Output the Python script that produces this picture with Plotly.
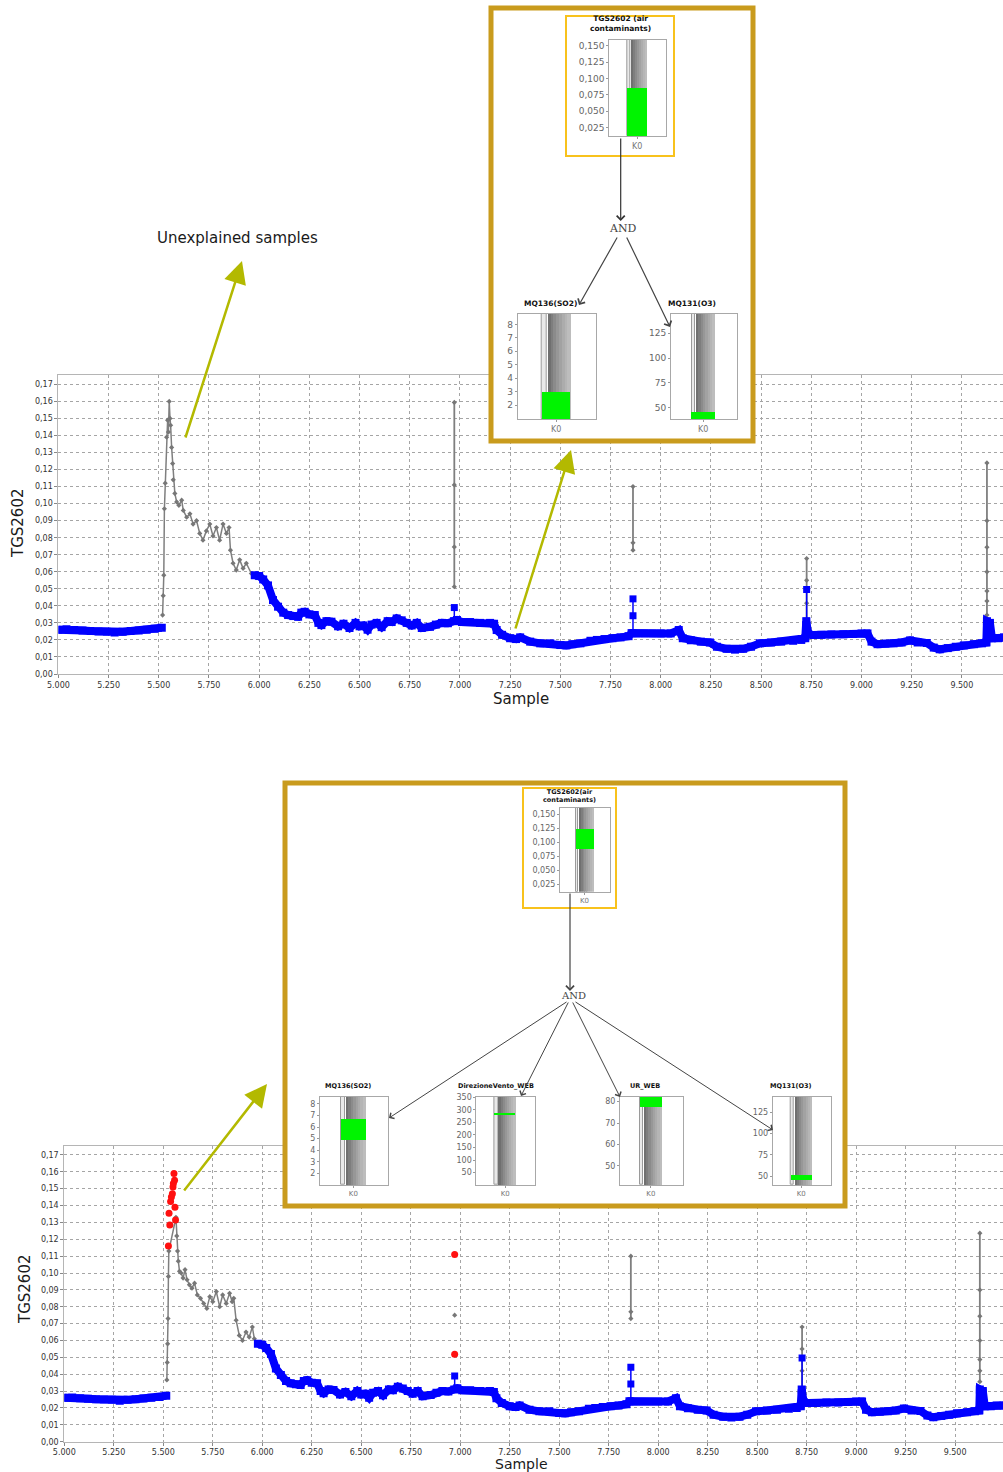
import plotly.graph_objects as go

W, H = 1003, 1472

# ---------------- data: main time series (TGS2602 vs Sample) ----------------
blue_x = [5000, 5040, 5080, 5120, 5160, 5200, 5240, 5280, 5320, 5360,
          5400, 5440, 5480, 5515, None, 5978, 6000, 6020, 6044, 6069,
          6094, 6120, 6144, 6170, 6194, 6210, 6227, 6250, 6277, 6295,
          6310, 6335, 6360, 6393, 6420, 6450, 6480, 6500, 6519, 6540,
          6560, 6585, 6610, 6640, 6660, 6685, 6710, 6735, 6760, 6785,
          6810, 6851, 6880, 6910, 6940, 6970, 6985, 7010, 7050, 7100,
          7150, 7170, 7183, 7210, 7250, 7280, 7300, 7350, 7400, 7450,
          7500, 7530, 7560, 7600, 7650, 7682, 7720, 7760, 7800, 7840,
          7855, 7880, 7920, 7960, 8000, 8050, 8090, 8110, 8150, 8200,
          8245, 8280, 8328, 8370, 8411, 8450, 8494, 8550, 8600, 8660,
          8700, 8720, 8725, 8735, 8760, 8800, 8850, 8910, 8960, 9000,
          9030, 9050, 9080, 9120, 9160, 9200, 9242, 9280, 9325, 9360,
          9390, 9430, 9470, 9510, 9560, 9600, 9622, 9625, 9640, 9650,
          9680, 9710, 9745]
blue_y = [0.0260, 0.0262, 0.0258, 0.0255, 0.0252, 0.0250, 0.0248, 0.0243, 0.0248, 0.0252,
          0.0256, 0.0260, 0.0265, 0.0272, None, 0.0580, 0.0575, 0.0555, 0.0520, 0.0434,
          0.0395, 0.0360, 0.0346, 0.0340, 0.0336, 0.0360, 0.0365, 0.0350, 0.0346, 0.0300,
          0.0287, 0.0310, 0.0307, 0.0280, 0.0295, 0.0270, 0.0300, 0.0280, 0.0285, 0.0260,
          0.0290, 0.0300, 0.0275, 0.0310, 0.0305, 0.0326, 0.0315, 0.0300, 0.0285, 0.0300,
          0.0270, 0.0277, 0.0290, 0.0300, 0.0298, 0.0310, 0.0317, 0.0305, 0.0305, 0.0300,
          0.0300, 0.0295, 0.0258, 0.0230, 0.0210, 0.0205, 0.0215, 0.0190, 0.0180, 0.0180,
          0.0170, 0.0168, 0.0175, 0.0180, 0.0195, 0.0200, 0.0205, 0.0210, 0.0215, 0.0222,
          0.0240, 0.0238, 0.0238, 0.0238, 0.0238, 0.0238, 0.0258, 0.0210, 0.0198, 0.0190,
          0.0185, 0.0160, 0.0148, 0.0143, 0.0148, 0.0160, 0.0180, 0.0185, 0.0190, 0.0195,
          0.0200, 0.0210, 0.0310, 0.0235, 0.0229, 0.0230, 0.0232, 0.0233, 0.0235, 0.0238,
          0.0238, 0.0190, 0.0175, 0.0178, 0.0180, 0.0185, 0.0197, 0.0185, 0.0182, 0.0155,
          0.0145, 0.0152, 0.0160, 0.0168, 0.0175, 0.0180, 0.0185, 0.0310, 0.0300, 0.0210,
          0.0210, 0.0215, 0.0215]

blue_spike_x = [6972, 6972, None, 7862, 7862, 7862, None, 8727, 8727]
blue_spike_y = [0.031, 0.039, None, 0.024, 0.0342, 0.0441, None, 0.031, 0.0496]

# top chart: unexplained samples (grey)
top_grey_x = [5519, 5522, 5525, 5528, 5532, 5539, 5544, 5548, 5552, 5556,
              5559, 5564, 5569, 5572, 5580, 5589, 5600, 5614, 5622, 5639,
              5655, 5671, 5688, 5704, 5720, 5737, 5754, 5770, 5787, 5803,
              5820, 5837, 5850, 5857, 5870, 5886, 5903, 5920, 5936, 5961, 5986]
top_grey_y = [0.0346, 0.046, 0.058, 0.097, 0.112, 0.139, 0.149, 0.142, 0.160, 0.150,
              0.146, 0.133, 0.1235, 0.114, 0.106, 0.101, 0.099, 0.102, 0.096, 0.092,
              0.094, 0.088, 0.090, 0.0825, 0.0785, 0.084, 0.088, 0.081, 0.086, 0.0785,
              0.088, 0.0825, 0.086, 0.0727, 0.065, 0.061, 0.067, 0.062, 0.065, 0.059, 0.057]
top_vert_x = [6972, 6972, 6972, 6972, None, 7862, 7862, 7862, None,
              8727, 8727, 8727, 8727, None, 9625, 9625, 9625, 9625, 9625, 9625, 9625]
top_vert_y = [0.0512, 0.0746, 0.111, 0.1594, None, 0.0727, 0.077, 0.110, None,
              0.0316, 0.0416, 0.055, 0.0678, None, 0.0346, 0.0428, 0.0487, 0.060, 0.0744, 0.090, 0.1239]

# bottom chart: unexplained (grey) and newly flagged (red)
bot_grey_x = [5518, 5520, 5522, 5524, 5526, 5528,
              5564, 5568, 5572, 5576, 5582, 5590, 5600, 5610, 5620, 5632,
              5645, 5658, 5672, 5688, 5704, 5720, 5735, 5750, 5768, 5785,
              5800, 5818, 5835, 5848, 5856, 5868, 5884, 5900, 5918, 5934,
              5950, 5960, 5972]
bot_grey_y = [0.0366, 0.047, 0.058, 0.073, 0.098, 0.113,
              0.133, 0.122, 0.113, 0.107, 0.101, 0.100, 0.097, 0.102, 0.096, 0.093,
              0.091, 0.094, 0.087, 0.085, 0.082, 0.079, 0.086, 0.083, 0.089, 0.080,
              0.087, 0.082, 0.088, 0.083, 0.085, 0.072, 0.063, 0.060, 0.065, 0.062,
              0.068, 0.061, 0.058]
bot_vert_x = [7862, 7862, 7862, None, 8727, 8727, 8727, 8727, None,
              9625, 9625, 9625, 9625, 9625, 9625, 9625]
bot_vert_y = [0.073, 0.077, 0.110, None, 0.031, 0.042, 0.055, 0.068, None,
              0.0356, 0.042, 0.0487, 0.060, 0.0744, 0.090, 0.1236]
bot_pts_x = [6972, 6972]
bot_pts_y = [0.159, 0.075]
red_x = [5526, 5529, 5533, 5537, 5541, 5546, 5549, 5551, 5554, 5557, 5559, 5562, 6972, 6972]
red_y = [0.116, 0.1355, 0.1285, 0.1424, 0.145, 0.147, 0.151, 0.153, 0.159, 0.155, 0.139, 0.1315, 0.111, 0.0518]

x_ticks = [5000, 5250, 5500, 5750, 6000, 6250, 6500, 6750, 7000, 7250, 7500, 7750, 8000, 8250, 8500, 8750, 9000, 9250, 9500]
y_ticks = [0.00, 0.01, 0.02, 0.03, 0.04, 0.05, 0.06, 0.07, 0.08, 0.09, 0.10, 0.11, 0.12, 0.13, 0.14, 0.15, 0.16, 0.17]

# ---------------- data: rule diagrams (mini bar charts) ----------------
top_node_names = ["TGS2602 (air<br>contaminants)", "MQ136(SO2)", "MQ131(O3)"]
top_axis_lo = [0.0123, 0.96, 38.6]
top_axis_hi = [0.1587, 8.77, 144.5]
top_green_lo = [0.0123, 0.96, 38.6]
top_green_hi = [0.085, 2.95, 46.0]
top_node_ticks = [[0.025, 0.05, 0.075, 0.1, 0.125, 0.15], [2, 3, 4, 5, 6, 7, 8], [50, 75, 100, 125]]

bot_node_names = ["TGS2602(air<br>contaminants)", "MQ136(SO2)", "DirezioneVento_WEB", "UR_WEB", "MQ131(O3)"]
bot_axis_lo = [0.0118, 0.99, 1, 41.1, 39.4]
bot_axis_hi = [0.1613, 8.63, 352, 82.3, 143.4]
bot_green_lo = [0.088, 4.88, 282, 77.7, 45.9]
bot_green_hi = [0.123, 6.76, 290, 82.3, 52.0]
bot_node_ticks = [[0.025, 0.05, 0.075, 0.1, 0.125, 0.15], [2, 3, 4, 5, 6, 7, 8],
                  [50, 100, 150, 200, 250, 300, 350], [50, 60, 70, 80], [50, 75, 100, 125]]
node_category = ["K0"]

# ---------------- styles / layout geometry (pixels) ----------------
BLUE = "#0000ff"
GREY = "#7f7f7f"
RED = "#ff1010"
GREEN = "#00f400"
GOLD = "#c99b1d"
YELLOW = "#f8c21c"
OLIVE = "#b3b900"
FONT = "DejaVu Sans"

top_mini_px = [(609.3, 40, 666, 136), (517.7, 314, 596, 419), (671, 314, 736.7, 419)]
top_title_px = [(620, 23), (550, 303), (692, 303)]
bot_mini_px = [(560, 808, 610, 891.7), (320, 1096.7, 388, 1185), (476.4, 1096.7, 535.3, 1185),
               (620, 1096.7, 683, 1185), (772.7, 1096.7, 831, 1185)]
bot_title_px = [(569, 796), (348, 1086), (496, 1086), (645, 1086), (791, 1086)]
grad_colors = ["#707070", "#7e7e7e", "#8b8b8b", "#979797", "#a2a2a2", "#acacac", "#b5b5b5", "#bdbdbd"]


def dom_x(a, b):
    return [max(0.0, a / W), min(1.0, b / W)]


def dom_y(t, b):
    return [max(0.0, 1 - b / H), min(1.0, 1 - t / H)]


fig = go.Figure()


# ---- main charts ----
def add_main(xa, ya, grey_x, grey_y, vert_x, vert_y):
    fig.add_trace(go.Scatter(x=grey_x, y=grey_y, mode="lines+markers", xaxis=xa, yaxis=ya,
                             line=dict(color=GREY, width=1.5),
                             marker=dict(symbol="diamond", size=4, color="#777777"), hoverinfo="skip"))
    fig.add_trace(go.Scatter(x=vert_x, y=vert_y, mode="lines+markers", xaxis=xa, yaxis=ya,
                             line=dict(color=GREY, width=1.8),
                             marker=dict(symbol="diamond", size=4, color="#777777"), hoverinfo="skip"))
    fig.add_trace(go.Scatter(x=blue_x, y=blue_y, mode="lines+markers", xaxis=xa, yaxis=ya,
                             line=dict(color=BLUE, width=8),
                             marker=dict(symbol="square", size=8, color=BLUE), hoverinfo="skip"))
    fig.add_trace(go.Scatter(x=blue_spike_x, y=blue_spike_y, mode="lines+markers", xaxis=xa, yaxis=ya,
                             line=dict(color=BLUE, width=1.5),
                             marker=dict(symbol="square", size=7, color=BLUE), hoverinfo="skip"))


add_main("x", "y", top_grey_x, top_grey_y, top_vert_x, top_vert_y)
add_main("x2", "y2", bot_grey_x, bot_grey_y, bot_vert_x, bot_vert_y)
fig.add_trace(go.Scatter(x=bot_pts_x, y=bot_pts_y, mode="markers", xaxis="x2", yaxis="y2",
                         marker=dict(symbol="diamond", size=4, color="#777777"), hoverinfo="skip"))
fig.add_trace(go.Scatter(x=red_x, y=red_y, mode="markers", xaxis="x2", yaxis="y2",
                         marker=dict(symbol="circle", size=7, color=RED), hoverinfo="skip"))

main_x_common = dict(tickvals=x_ticks, tickformat=",d", ticks="outside", ticklen=3, tickcolor="#888",
                     tickfont=dict(family=FONT, size=8, color="#333"), showgrid=True, gridcolor="#a5a5a5",
                     griddash="dot", gridwidth=1, zeroline=False, showline=True, mirror=True,
                     linecolor="#b5b5b5", fixedrange=True)
main_y_common = dict(tickvals=y_ticks, tickformat=".2f", ticks="outside", ticklen=3, tickcolor="#888",
                     tickfont=dict(family=FONT, size=8, color="#333"), showgrid=True, gridcolor="#a5a5a5",
                     griddash="dot", gridwidth=1, zeroline=False, showline=True, mirror=True,
                     linecolor="#b5b5b5", fixedrange=True)

layout = dict(
    width=W, height=H, margin=dict(l=0, r=0, t=0, b=0, autoexpand=False),
    paper_bgcolor="white", plot_bgcolor="rgba(0,0,0,0)",
    separators=",.", showlegend=False, barmode="overlay", bargap=0,
    font=dict(family=FONT),
    xaxis=dict(domain=dom_x(58.4, W), range=[5000, 9705], anchor="y", **main_x_common),
    yaxis=dict(domain=dom_y(375, 674), range=[0, 0.1755], anchor="x", **main_y_common),
    xaxis2=dict(domain=dom_x(64.3, W), range=[5000, 9742], anchor="y2", **main_x_common),
    yaxis2=dict(domain=dom_y(1146, 1441.7), range=[0, 0.1753], anchor="x2", **main_y_common),
    # full-page pixel overlay used for inset backgrounds and decorations
    xaxis3=dict(domain=[0, 1], range=[0, W], anchor="y3", visible=False, fixedrange=True),
    yaxis3=dict(domain=[0, 1], range=[H, 0], anchor="x3", visible=False, fixedrange=True),
)

# white backgrounds for the two inset panels (drawn on the overlay subplot, above the main charts)
fig.add_trace(go.Scatter(x=[491, 753, 753, 491, 491, None, 285, 845, 845, 285, 285],
                         y=[8, 8, 441, 441, 8, None, 783, 783, 1206, 1206, 783],
                         mode="lines", fill="toself", fillcolor="white", line=dict(width=0, color="white"),
                         xaxis="x3", yaxis="y3", hoverinfo="skip"))

# ---- mini bar charts ----
annotations = []
shapes = []


def add_mini(k, box, lo, hi, glo, ghi, ticks, title, title_pos, tick_size, title_size, fmt):
    xa, ya = "x%d" % k, "y%d" % k
    n = len(grad_colors)
    g0, g1 = 0.385, 0.67
    gw = (g1 - g0) / n
    centers = [g0 + gw * (i + 0.5) for i in range(n)]
    fig.add_trace(go.Bar(x=[0.34], y=[hi - lo], base=[lo], width=[0.055], xaxis=xa, yaxis=ya,
                         marker=dict(color="#e9e9e9", line=dict(color="#9a9a9a", width=1)), hoverinfo="skip"))
    fig.add_trace(go.Bar(x=centers, y=[hi - lo] * n, base=[lo] * n, width=[gw * 1.25] * n, xaxis=xa, yaxis=ya,
                         marker=dict(color=grad_colors, line=dict(width=0)), hoverinfo="skip"))
    fig.add_trace(go.Bar(x=[0.49], y=[ghi - glo], base=[glo], width=[0.36], xaxis=xa, yaxis=ya,
                         marker=dict(color=GREEN, line=dict(width=0)), hoverinfo="skip"))
    x0, y0, x1, y1 = box
    layout["xaxis%d" % k] = dict(domain=dom_x(x0, x1), range=[0, 1], anchor=ya, tickvals=[0.49],
                                 ticktext=node_category, ticks="outside", ticklen=2, tickcolor="#999",
                                 tickfont=dict(family=FONT, size=tick_size - 1, color="#777"),
                                 showgrid=False, zeroline=False, showline=True, mirror=True,
                                 linecolor="#a8a8a8", fixedrange=True)
    layout["yaxis%d" % k] = dict(domain=dom_y(y0, y1), range=[lo, hi], anchor=xa, tickvals=ticks,
                                 tickformat=fmt, ticks="outside", ticklen=2, tickcolor="#999",
                                 tickfont=dict(family=FONT, size=tick_size, color="#666"),
                                 showgrid=False, zeroline=False, showline=True, mirror=True,
                                 linecolor="#a8a8a8", fixedrange=True)
    annotations.append(dict(x=title_pos[0], y=title_pos[1], xref="x3", yref="y3", showarrow=False,
                            text="<b>%s</b>" % title, font=dict(family=FONT, size=title_size, color="#111"),
                            xanchor="center", yanchor="middle"))


for i in range(3):
    add_mini(4 + i, top_mini_px[i], top_axis_lo[i], top_axis_hi[i], top_green_lo[i], top_green_hi[i],
             top_node_ticks[i], top_node_names[i], top_title_px[i], 9, 7.5, ".3f" if i == 0 else "d")
for i in range(5):
    add_mini(7 + i, bot_mini_px[i], bot_axis_lo[i], bot_axis_hi[i], bot_green_lo[i], bot_green_hi[i],
             bot_node_ticks[i], bot_node_names[i], bot_title_px[i], 8, 6.5, ".3f" if i == 0 else "d")

# ---- inset frames ----
shapes.append(dict(type="rect", xref="x3", yref="y3", x0=491, x1=753, y0=8, y1=441,
                   line=dict(color=GOLD, width=5), layer="above"))
shapes.append(dict(type="rect", xref="x3", yref="y3", x0=566, x1=674, y0=16, y1=156,
                   line=dict(color=YELLOW, width=2), layer="above"))
shapes.append(dict(type="rect", xref="x3", yref="y3", x0=285, x1=845, y0=783, y1=1206,
                   line=dict(color=GOLD, width=5), layer="above"))
shapes.append(dict(type="rect", xref="x3", yref="y3", x0=523, x1=616, y0=788, y1=908,
                   line=dict(color=YELLOW, width=2), layer="above"))


def arrow(tail, tip, color, width, head, size):
    annotations.append(dict(x=tip[0], y=tip[1], ax=tail[0], ay=tail[1], xref="x3", yref="y3",
                            axref="x3", ayref="y3", text="", showarrow=True, arrowhead=head,
                            arrowsize=size, arrowwidth=width, arrowcolor=color))


# rule-diagram arrows
arrow((620.7, 137), (620.7, 221), "#333", 1.2, 4, 1.3)
arrow((618, 236), (579, 305), "#444", 1.2, 4, 1.3)
arrow((626, 236), (670, 327), "#444", 1.2, 4, 1.3)
arrow((570, 892), (570, 991), "#444", 1.2, 4, 1.3)
arrow((568, 1001), (389, 1118), "#444", 1.0, 4, 1.3)
arrow((569, 1001), (521, 1096), "#444", 1.0, 4, 1.3)
arrow((572, 1001), (620, 1097), "#444", 1.0, 4, 1.3)
arrow((574, 1001), (773, 1130), "#444", 1.0, 4, 1.3)
annotations.append(dict(x=623, y=228, xref="x3", yref="y3", text="AND", showarrow=False,
                        font=dict(family="DejaVu Serif", size=11, color="#444")))
annotations.append(dict(x=573, y=995, xref="x3", yref="y3", text="AND", showarrow=False,
                        font=dict(family="DejaVu Serif", size=10, color="#444")))

# highlight arrows
arrow((185, 439), (242, 261), OLIVE, 2.5, 2, 1.8)
arrow((515, 630), (571, 450), OLIVE, 2.5, 2, 1.8)
arrow((183, 1192), (267, 1084), OLIVE, 2.5, 2, 1.8)
annotations.append(dict(x=237, y=238, xref="x3", yref="y3", text="Unexplained samples", showarrow=False,
                        font=dict(family=FONT, size=15, color="#1a1a1a")))

# axis titles
for (xx, yy, txt, ang, sz) in [(18, 524, "TGS2602", -90, 15), (521, 699, "Sample", 0, 15),
                               (25, 1290, "TGS2602", -90, 15), (521, 1464, "Sample", 0, 14)]:
    annotations.append(dict(x=xx, y=yy, xref="x3", yref="y3", text=txt, showarrow=False, textangle=ang,
                            font=dict(family=FONT, size=sz, color="#1a1a1a")))

layout["annotations"] = annotations
layout["shapes"] = shapes
fig.update_layout(**layout)
fig.write_html("out.html", config={"displayModeBar": False},
               post_script="document.body.style.margin='0';document.body.style.overflow='hidden';")
